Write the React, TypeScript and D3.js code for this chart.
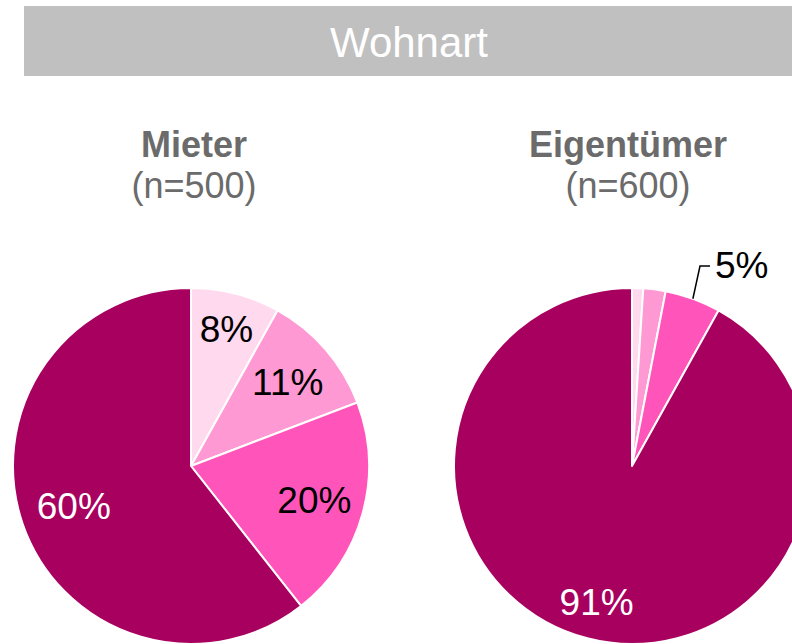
import React, { useEffect, useRef } from 'react';
import * as d3 from 'd3';

// Wohnart – Anteile je Gruppe (in %)
const chartTitle = "Wohnart";
const groupNames = ["Mieter", "Eigentümer"];
const sampleSizes = [500, 600];
const mieterShares = [8, 11, 20, 60];
const eigentuemerShares = [1, 2, 5, 91];
const sliceColors = ["#ffd9ee", "#ff99d3", "#ff55bb", "#a8005f"];

function App() {
  const ref = useRef<SVGSVGElement>(null);

  useEffect(() => {
    const width = 792;
    const height = 644;
    const radius = 178;

    const svg = d3.select(ref.current)
      .attr("width", width)
      .attr("height", height);
    svg.selectAll("*").remove();

    const font = "'Liberation Sans', Arial, Helvetica, sans-serif";

    // title bar
    svg.append("rect")
      .attr("x", 24)
      .attr("y", 6)
      .attr("width", 790)
      .attr("height", 70)
      .attr("fill", "#c0c0c0");
    svg.append("text")
      .attr("x", 409)
      .attr("y", 57)
      .attr("text-anchor", "middle")
      .attr("font-family", font)
      .attr("font-size", 42)
      .attr("fill", "#fff")
      .text(chartTitle);

    const pie = d3.pie<number>().sort(null).value(d => d);
    const arc = d3.arc<d3.PieArcDatum<number>>().innerRadius(0).outerRadius(radius);

    const panels = [
      { shares: mieterShares, cx: 191, titleX: 194, labelR: [141, 128, 128, 124], outside: [] as number[], shown: [0, 1, 2, 3] },
      { shares: eigentuemerShares, cx: 632, titleX: 628, labelR: [0, 0, 0, 141], outside: [2], shown: [3] },
    ];
    const cy = 466;

    panels.forEach((p, gi) => {
      svg.append("text")
        .attr("x", p.titleX)
        .attr("y", 157)
        .attr("text-anchor", "middle")
        .attr("font-family", font)
        .attr("font-size", 36)
        .attr("font-weight", "bold")
        .attr("fill", "#6b6b6b")
        .text(groupNames[gi]);
      svg.append("text")
        .attr("x", p.titleX)
        .attr("y", 198)
        .attr("text-anchor", "middle")
        .attr("font-family", font)
        .attr("font-size", 36)
        .attr("fill", "#6b6b6b")
        .text(`(n=${sampleSizes[gi]})`);

      const g = svg.append("g").attr("transform", `translate(${p.cx},${cy})`);
      const arcs = pie(p.shares);

      g.selectAll("path")
        .data(arcs)
        .enter()
        .append("path")
        .attr("d", arc)
        .attr("fill", (d, i) => sliceColors[i])
        .attr("stroke", "#fff")
        .attr("stroke-width", 2)
        .attr("stroke-linejoin", "round");

      arcs.forEach((d, i) => {
        const mid = (d.startAngle + d.endAngle) / 2;
        if (p.shown.includes(i)) {
          const r = p.labelR[i];
          g.append("text")
            .attr("x", r * Math.sin(mid))
            .attr("y", -r * Math.cos(mid))
            .attr("text-anchor", "middle")
            .attr("dominant-baseline", "central")
            .attr("font-family", font)
            .attr("font-size", 37)
            .attr("fill", i === 3 ? "#fff" : "#000")
            .text(`${d.data}%`);
        }
        if (p.outside.includes(i)) {
          const x0 = radius * Math.sin(mid), y0 = -radius * Math.cos(mid);
          const x1 = 68, y1 = -200;
          g.append("path")
            .attr("d", `M${x0},${y0}L${x1},${y1}L${x1 + 10},${y1}`)
            .attr("fill", "none")
            .attr("stroke", "#000")
            .attr("stroke-width", 1.5);
          g.append("text")
            .attr("x", x1 + 15)
            .attr("y", y1 - 1)
            .attr("dominant-baseline", "central")
            .attr("font-family", font)
            .attr("font-size", 37)
            .attr("fill", "#000")
            .text(`${d.data}%`);
        }
      });
    });
  }, []);

  return <svg ref={ref} style={{ position: "absolute", left: 0, top: 0 }}></svg>;
}

export default App;
